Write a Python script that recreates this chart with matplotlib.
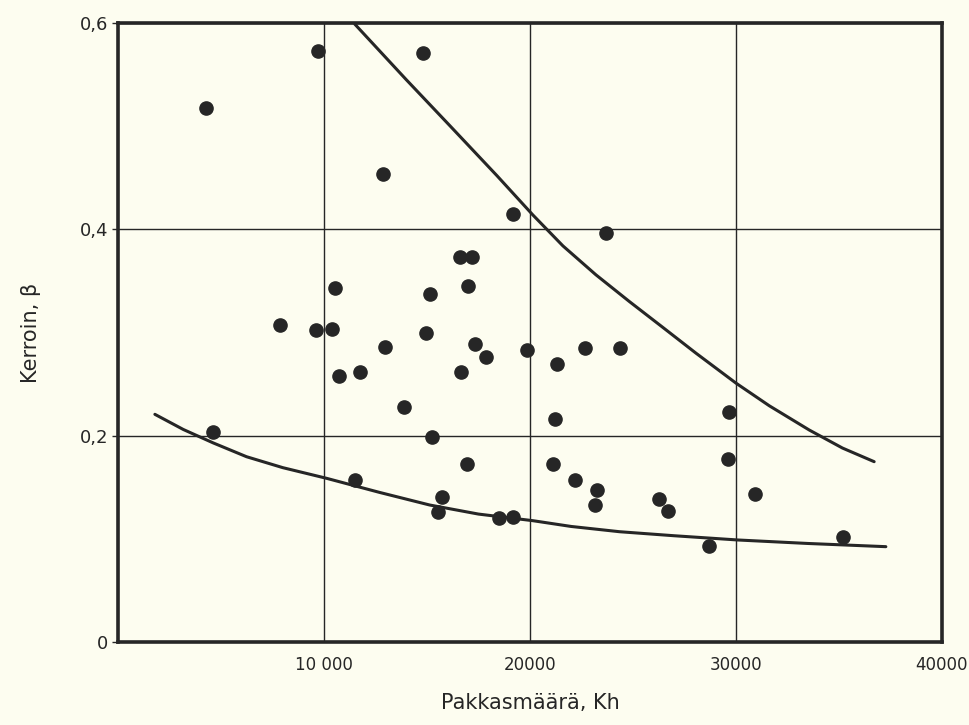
import matplotlib.pyplot as plt

# mittauspisteet (pakkasmäärä Kh, kerroin beta)
frost_kh = [4250, 4620, 7860, 9600, 9710, 10390, 10520, 10720, 11530, 11750,
            12850, 12980, 13900, 14810, 14970, 15170, 15240, 15550, 15750, 16590,
            16670, 16930, 17010, 17180, 17350, 17850, 18480, 19170, 19200, 19860,
            21140, 21240, 21300, 22210, 22660, 23150, 23250, 23670, 24350, 26290,
            26720, 28680, 29600, 29680, 30940, 35180]
beta = [0.518, 0.204, 0.307, 0.302, 0.573, 0.303, 0.343, 0.258, 0.157, 0.262,
        0.454, 0.286, 0.228, 0.571, 0.300, 0.337, 0.199, 0.126, 0.141, 0.373,
        0.262, 0.173, 0.345, 0.373, 0.289, 0.276, 0.120, 0.121, 0.415, 0.283,
        0.173, 0.216, 0.269, 0.157, 0.285, 0.133, 0.147, 0.396, 0.285, 0.139,
        0.127, 0.093, 0.177, 0.223, 0.143, 0.102]

# ylempi rajakäyrä (luettu kuvasta)
upper_x = [11494, 14000, 16135, 18400, 20140, 21600, 23200, 24830, 26450,
           28060, 30000, 31620, 33560, 35175, 36712]
upper_y = [0.599, 0.545, 0.500, 0.452, 0.414, 0.384, 0.356, 0.330, 0.305,
           0.280, 0.251, 0.229, 0.2055, 0.188, 0.1748]

# alempi rajakäyrä (luettu kuvasta)
lower_x = [1790, 3170, 4620, 6240, 8000, 10120, 12700, 15130, 17500, 20140,
           22000, 24350, 27000, 30080, 33500, 37280]
lower_y = [0.2207, 0.206, 0.193, 0.1796, 0.169, 0.1587, 0.145, 0.1328, 0.124,
           0.1176, 0.112, 0.1069, 0.103, 0.0989, 0.0955, 0.0924]

x_ticks = [10000, 20000, 30000, 40000]
x_labels = ['10 000', '20000', '30000', '40000']
y_ticks = [0, 0.2, 0.4, 0.6]
y_labels = ['0', '0,2', '0,4', '0,6']

bg = '#fdfdf0'
ink = '#262626'
plt.rcParams['font.family'] = ['DejaVu Sans']

fig = plt.figure(figsize=(9.69, 7.25), dpi=100, facecolor=bg)
ax = fig.add_axes([0.1218, 0.1145, 0.8502, 0.8537])
ax.set_facecolor(bg)

ax.plot(upper_x, upper_y, color=ink, lw=2.2, solid_capstyle='round', zorder=3)
ax.plot(lower_x, lower_y, color=ink, lw=2.2, solid_capstyle='round', zorder=3)
ax.plot(frost_kh, beta, 'o', color=ink, ms=9.5, zorder=4)

ax.set_xlim(0, 40000)
ax.set_ylim(0, 0.6)
ax.set_xticks(x_ticks)
ax.set_xticklabels(x_labels)
ax.set_yticks(y_ticks)
ax.set_yticklabels(y_labels)
ax.grid(True, color=ink, lw=1.0)
ax.set_axisbelow(True)
ax.tick_params(axis='x', length=0, pad=10, labelsize=12, colors=ink)
ax.tick_params(axis='y', length=4, width=1, pad=3, labelsize=13, colors=ink)
for s in ax.spines.values():
    s.set_linewidth(2.6)
    s.set_color(ink)

ax.set_xlabel('Pakkasmäärä, Kh', fontsize=15, color=ink, labelpad=14)
ax.set_ylabel('Kerroin, β', fontsize=15, color=ink, labelpad=28)

plt.savefig('out.png', dpi=100, facecolor=bg)
